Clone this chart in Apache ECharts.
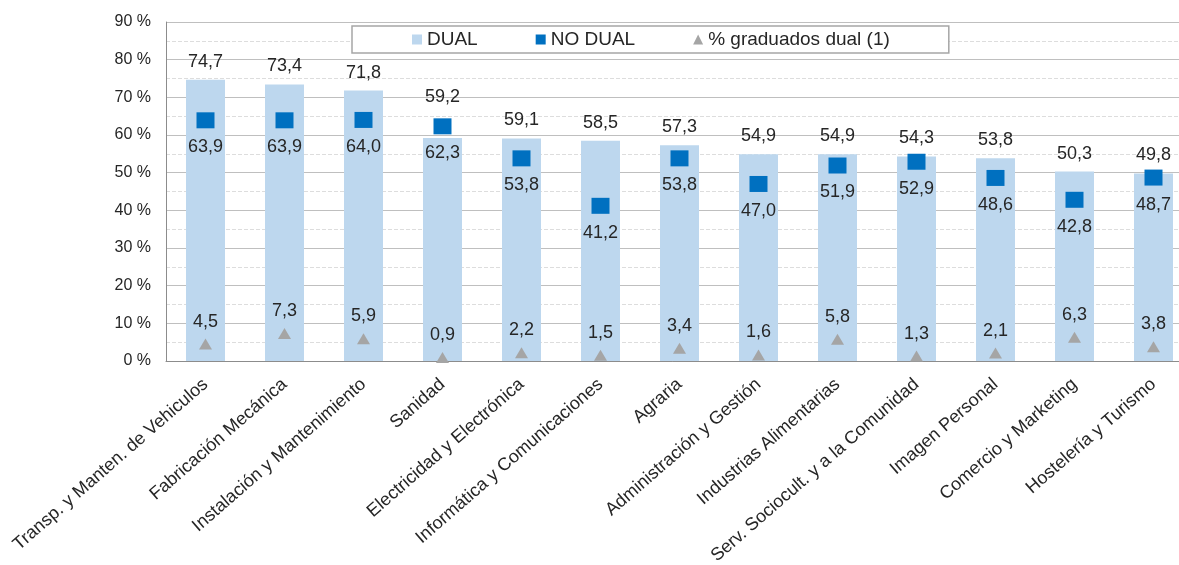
<!DOCTYPE html>
<html>
<head>
<meta charset="utf-8">
<script src="https://cdn.jsdelivr.net/npm/echarts@6/dist/echarts.min.js"></script>
<style>
html,body{margin:0;padding:0;background:#fff;}
#chart{width:1179px;height:565px;}
</style>
</head>
<body>
<div id="chart"></div>
<script>
const categories = ['Transp. y Manten. de Vehiculos','Fabricación Mecánica','Instalación y Mantenimiento','Sanidad','Electricidad y Electrónica','Informática y Comunicaciones','Agraria','Administración y Gestión','Industrias Alimentarias','Serv. Sociocult. y a la Comunidad','Imagen Personal','Comercio y Marketing','Hostelería y Turismo'];
const dualValues = [74.7,73.4,71.8,59.2,59.1,58.5,57.3,54.9,54.9,54.3,53.8,50.3,49.8];
const noDualValues = [63.9,63.9,64.0,62.3,53.8,41.2,53.8,47.0,51.9,52.9,48.6,42.8,48.7];
const gradValues = [4.5,7.3,5.9,0.9,2.2,1.5,3.4,1.6,5.8,1.3,2.1,6.3,3.8];
const seriesNames = ['DUAL','NO DUAL','% graduados dual (1)'];

const FONT = '"Liberation Sans", Arial, sans-serif';
const TXT = '#262626';
const fmt = p => p.value.toFixed(1).replace('.', ',');
const lbl = (pos, dist) => ({show: true, position: pos, distance: dist, formatter: fmt, fontSize: 18, color: TXT, fontFamily: FONT, textBorderWidth: 0, opacity: 1});

const dualData = dualValues.map((v, i) => i === 3 ? {value: v, label: {offset: [0, -23]}} : v);

const chart = echarts.init(document.getElementById('chart'));
chart.setOption({
  animation: false,
  backgroundColor: '#fff',
  textStyle: {fontFamily: FONT},
  grid: {left: 166, width: 1027, top: 22, bottom: 204, containLabel: false, outerBoundsMode: 'none'},
  legend: {
    left: 352, top: 26,
    backgroundColor: '#fff',
    borderColor: '#A6A6A6', borderWidth: 1.5,
    padding: [4, 59, 4, 60],
    itemGap: 58, itemWidth: 10, itemHeight: 10,
    textStyle: {fontSize: 19, color: TXT, fontFamily: FONT},
    data: [
      {name: seriesNames[0], icon: 'rect'},
      {name: seriesNames[1], icon: 'rect'},
      {name: seriesNames[2], icon: 'triangle'}
    ]
  },
  xAxis: {
    type: 'category',
    data: categories,
    axisLine: {lineStyle: {color: '#8C8C8C', width: 1}},
    axisTick: {show: false},
    axisLabel: {interval: 0, rotate: 41, margin: 21, fontSize: 18, color: TXT, fontFamily: FONT}
  },
  yAxis: {
    type: 'value',
    min: 0, max: 90, interval: 10,
    axisLine: {show: true, lineStyle: {color: '#8C8C8C', width: 1}},
    axisTick: {show: false},
    axisLabel: {formatter: '{value} %', fontSize: 16, color: TXT, margin: 15, fontFamily: FONT},
    splitLine: {lineStyle: {color: '#BFBFBF', width: 1}},
    minorTick: {show: false, splitNumber: 2},
    minorSplitLine: {show: true, lineStyle: {color: '#DDDDDD', type: 'dashed', width: 1}}
  },
  series: [
    {
      name: seriesNames[0], type: 'bar', data: dualData,
      barWidth: 39,
      itemStyle: {color: '#BDD7EE'},
      label: lbl('top', 9)
    },
    {
      name: seriesNames[1], type: 'scatter', data: noDualValues,
      symbol: 'rect', symbolSize: [18, 16], z: 3,
      itemStyle: {color: '#0070C0', opacity: 1},
      label: lbl('bottom', 10)
    },
    {
      name: seriesNames[2], type: 'scatter', data: gradValues,
      symbol: 'triangle', symbolSize: [13, 11], z: 3,
      itemStyle: {color: '#A5A5A5', opacity: 1},
      label: lbl('top', 8)
    }
  ]
});
</script>
</body>
</html>
